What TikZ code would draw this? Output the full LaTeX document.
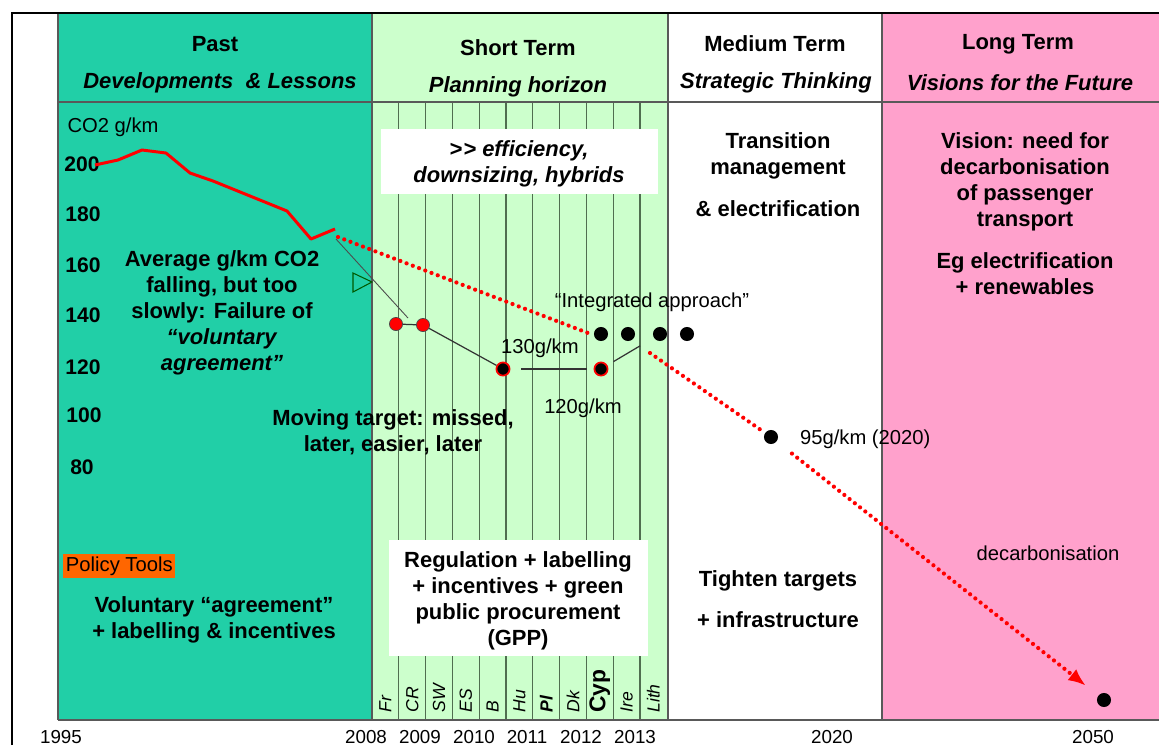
\documentclass[tikz,border=0pt]{standalone}
\usepackage{fontspec}
\setmainfont{Liberation Sans}
\usepackage{tikz}
\usetikzlibrary{arrows.meta, shapes.geometric, calc}

\definecolor{pastteal}{RGB}{33,207,167}
\definecolor{shortgreen}{RGB}{204,255,204}
\definecolor{longpink}{RGB}{255,161,204}
\definecolor{tooltag}{RGB}{255,102,0}
\definecolor{gridline}{RGB}{80,110,80}

\begin{document}
\begin{tikzpicture}[x=0.02cm, y=-0.02cm,%
  frame/.style={line width=1.2pt, draw=black},%
  column/.style={draw=black!65, line width=0.6pt},%
  strip/.style={draw=gridline, line width=0.6pt},%
  title/.style={font=\fontsize{12.5}{15}\selectfont\bfseries},%
  subtitle/.style={font=\fontsize{12.5}{15}\selectfont\bfseries\itshape},%
  say/.style={font=\fontsize{12.5}{14.8}\selectfont\bfseries, align=center, inner sep=0pt},%
  remark/.style={font=\fontsize{11.5}{14}\selectfont, inner sep=1pt},%
  axislabel/.style={font=\fontsize{12}{14}\selectfont\bfseries},%
  year/.style={font=\fontsize{10.7}{13}\selectfont},%
  country/.style={font=\fontsize{10}{12}\selectfont\itshape, rotate=90, anchor=west, inner sep=0pt},%
  target/.style={circle, fill=black, inner sep=0pt, minimum size=8pt},%
  missed/.style={circle, fill=red, draw=black!70, line width=0.4pt, inner sep=0pt, minimum size=7.5pt},%
  met/.style={circle, fill=black, draw=red, line width=1pt, inner sep=0pt, minimum size=7.5pt},%
  trend/.style={red, line width=2.4pt, line cap=round, dash pattern=on 0pt off 3.8pt},%
  link/.style={black!80, line width=0.7pt}%
]
  \fill[white] (0,0) rectangle (1159,745);
  \useasboundingbox (0,0) rectangle (1159,745);
  % Columns
  \fill[pastteal] (58,14) rectangle (372,720);
  \fill[shortgreen] (372,14) rectangle (668,720);
  \fill[longpink] (882,14) rectangle (1159,720);
  \foreach \i in {1,...,10}
    \draw[strip] ({372+26.8*\i},102) -- ({372+26.8*\i},720);
  \foreach \x in {58,372,668,882}
    \draw[column] (\x,14) -- (\x,720);
  \draw[column] (58,102) -- (1159,102);
  \draw[column] (58,720) -- (1159,720);
  \draw[frame] (12,745) -- (12,13) -- (1159,13);
  % Headings
  \node[title] (past) at (215,44) {Past};
  \node[subtitle] (pastsub) at (220,83) {Developments\ \ \& Lessons};
  \node[title] (short) at (518,48) {Short Term};
  \node[subtitle] (shortsub) at (518,87) {Planning horizon};
  \node[title] (medium) at (775,44) {Medium Term};
  \node[subtitle] (mediumsub) at (776,83) {Strategic Thinking};
  \node[title] (long) at (1018,44) {Long Term};
  \node[subtitle] (longsub) at (1020,83) {Visions for the Future};
  % Past
  \node[remark] (unit) at (113,127) {CO2 g/km};
  \foreach \v/\y/\x in {200/164/82, 180/214/83, 160/265/83, 140/315/83, 120/367/83, 100/415/84, 80/467/82}
    \node[axislabel] (y\v) at (\x,\y) {\v};
  \draw[red, line width=1.7pt, line join=round] (95,165) -- (118,160) -- (142,150) -- (166,153) -- (190,173) -- (213,181) -- (287,211) -- (311,239) -- (335,229);
  \filldraw[fill=pastteal, draw=green!35!black, line width=0.6pt] (353,273) -- (372,282) -- (353,292) -- cycle;
  \node[say] (failure) at (222,313) {Average g/km CO2\\falling, but too\\slowly: Failure of\\\textit{“voluntary}\\\textit{agreement”}};
  \node[fill=tooltag, font=\fontsize{11.5}{14}\selectfont, inner sep=1.5pt, anchor=west] (tools) at (63,566) {Policy Tools};
  \node[say] (voluntary) at (214,620) {Voluntary “agreement”\\+ labelling \& incentives};
  % Short term
  \fill[white] (381,129) rectangle (658,194);
  \node[say, font=\fontsize{12.5}{14.8}\selectfont\bfseries\itshape] (efficiency) at (519,164) {>\kern0.6pt> efficiency,\\downsizing, hybrids};
  \fill[white] (389,540) rectangle (648,656);
  \node[say] (regulation) at (518,601) {Regulation + labelling\\+ incentives + green\\public procurement\\(GPP)};
  \foreach \lab [count=\i from 0] in {Fr,CR,SW,ES,B,Hu,{\bfseries Pl},Dk,{\fontsize{13}{15}\selectfont\upshape\bfseries Cyp},Ire,Lith}
    \node[country] (c\i) at ({385.4+26.8*\i},713) {\lab};
  \node[say] (moving) at (393,432) {Moving target: missed,\\later, easier, later};
  % Targets
  \node[missed] (fr) at (396,324) {};
  \node[missed] (cr) at (423,325) {};
  \node[met] (t130) at (503,369) {};
  \node[met] (t120) at (601,369) {};
  \foreach \x [count=\i] in {601,628,660,687}
    \node[target] (ia\i) at (\x,334) {};
  \node[target] (t95) at (771,437) {};
  \node[target] (t2050) at (1104,700) {};
  \coordinate (curveend) at (336,239);
  \coordinate (pointer) at (408,318);
  \draw[black!70, line width=0.5pt] (curveend) -- (pointer);
  \draw[link] (fr) -- (cr);
  \draw[link] (cr) -- (t130);
  \draw[link, shorten <=6pt, shorten >=4pt] (t130) -- (t120);
  \draw[link, shorten <=4pt, shorten >=9pt] (t120) -- (ia3);
  \node[remark, anchor=west] (l130) at (499,348) {130g/km};
  \node[remark] (l120) at (583,408) {120g/km};
  \node[remark] (integrated) at (652,302) {“Integrated approach”};
  % Trend
  \coordinate (trendstart) at (338,237);
  \coordinate (trendmid) at (588,333);
  \coordinate (trendkink) at (650,353);
  \draw[trend] (trendstart) -- (trendmid);
  \draw[trend, shorten >=2pt] (trendkink) -- (t95);
  \draw[trend, -{Latex[length=10pt, width=8pt]}, shorten <=11pt, shorten >=9pt] (t95) -- (t2050);
  \node[remark, anchor=west] (l95) at (798,439) {95g/km (2020)};
  % Medium and long term
  \node[say] (transition) at (778,156) {Transition\\management};
  \node[say] (electrification) at (778,209) {\& electrification};
  \node[say] (tighten) at (778,581) {Tighten targets};
  \node[say] (infrastructure) at (778,620) {+ infrastructure};
  \node[say] (vision) at (1025,182) {Vision: need for\\decarbonisation\\of passenger\\transport};
  \node[say] (eg) at (1025,274) {Eg electrification\\+ renewables};
  \node[remark] (decarb) at (1048,553) {decarbonisation};
  % Years
  \foreach \yr/\x in {1995/61, 2008/366, 2009/420, 2010/474, 2011/527, 2012/581, 2013/635, 2020/832, 2050/1093}
    \node[year] (yr\yr) at (\x,737) {\yr};
\end{tikzpicture}
\end{document}
